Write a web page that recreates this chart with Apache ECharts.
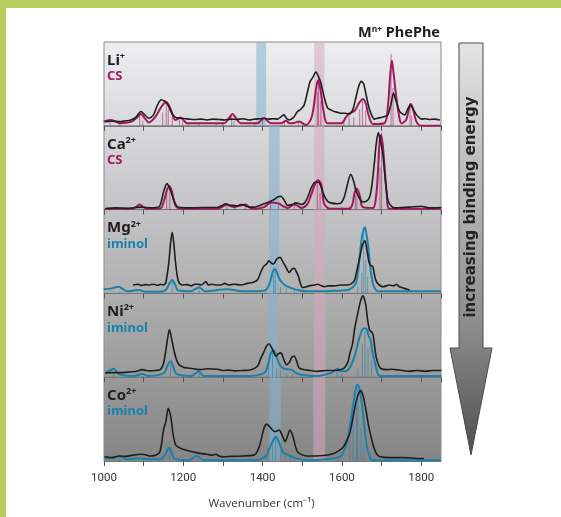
<!DOCTYPE html>
<html><head><meta charset="utf-8">
<script src="https://cdn.jsdelivr.net/npm/echarts@6/dist/echarts.min.js"></script>
<style>html,body{margin:0;padding:0;background:#fff}#c{width:561px;height:517px}</style>
</head><body><div id="c"></div>
<script>
const xTickLabels = [1000, 1200, 1400, 1600, 1800];
const ions = ['Li', 'Ca', 'Mg', 'Ni', 'Co'];
const charges = ['+', '2+', '2+', '2+', '2+'];
const calcNames = ['CS', 'CS', 'iminol', 'iminol', 'iminol'];
const blueBands = [[1384, 1409], [1416, 1443], [1416, 1442], [1413, 1440], [1417, 1446]];
const pinkBands = [[1530, 1556], [1530, 1556], [1530, 1557], [1530, 1559], [1528, 1558]];

const liExp = [[1003,0.05],[1020,0.055],[1040,0.05],[1055,0.06],[1066,0.065],[1080,0.1],[1093,0.17],[1103,0.13],[1113,0.09],[1125,0.13],[1135,0.25],[1145,0.31],[1150,0.3],[1155,0.29],[1162,0.24],[1170,0.16],[1180,0.1],[1193,0.09],[1205,0.085],[1215,0.08],[1230,0.075],[1245,0.08],[1260,0.07],[1275,0.08],[1290,0.075],[1305,0.07],[1320,0.08],[1335,0.075],[1350,0.085],[1365,0.07],[1380,0.08],[1395,0.085],[1404,0.09],[1415,0.08],[1428,0.085],[1438,0.08],[1447,0.11],[1454,0.13],[1460,0.09],[1467,0.07],[1478,0.1],[1488,0.17],[1497,0.2],[1505,0.25],[1513,0.4],[1520,0.53],[1527,0.58],[1534,0.64],[1540,0.6],[1547,0.51],[1556,0.33],[1564,0.21],[1572,0.19],[1581,0.17],[1590,0.16],[1598,0.15],[1608,0.15],[1619,0.14],[1628,0.2],[1636,0.35],[1643,0.48],[1649,0.53],[1655,0.5],[1662,0.35],[1670,0.19],[1682,0.08],[1690,0.09],[1699,0.1],[1708,0.11],[1716,0.13],[1724,0.26],[1730,0.39],[1737,0.29],[1746,0.17],[1758,0.13],[1766,0.2],[1773,0.25],[1780,0.2],[1788,0.13],[1795,0.1],[1800,0.08],[1810,0.085],[1820,0.075],[1834,0.08],[1847,0.07]];
const liCalc = [[999,0.05],[1016,0.07],[1030,0.05],[1041,0.03],[1070,0.05],[1083,0.1],[1093,0.14],[1103,0.09],[1113,0.04],[1130,0.11],[1145,0.23],[1157,0.28],[1168,0.2],[1180,0.07],[1193,0.1],[1202,0.06],[1210,0.03],[1260,0.03],[1303,0.03],[1315,0.09],[1324,0.14],[1333,0.09],[1345,0.03],[1387,0.03],[1397,0.07],[1404,0.09],[1412,0.06],[1421,0.03],[1446,0.03],[1459,0.06],[1468,0.03],[1476,0.03],[1492,0.05],[1509,0.01],[1522,0.08],[1529,0.23],[1535,0.45],[1540,0.54],[1546,0.43],[1554,0.17],[1564,0.03],[1598,0.03],[1610,0.1],[1619,0.15],[1632,0.18],[1643,0.27],[1653,0.32],[1660,0.27],[1666,0.15],[1679,0.02],[1707,0.03],[1716,0.23],[1721,0.55],[1726,0.78],[1731,0.6],[1737,0.35],[1745,0.1],[1750,0.03],[1762,0.07],[1768,0.18],[1774,0.26],[1780,0.19],[1788,0.05],[1800,0],[1850,0]];
const liSticks = [[1015,0.04],[1040,0.02],[1090,0.12],[1098,0.06],[1148,0.16],[1157,0.26],[1162,0.2],[1172,0.1],[1190,0.08],[1198,0.05],[1212,0.03],[1240,0.03],[1283,0.02],[1300,0.03],[1322,0.13],[1328,0.05],[1380,0.03],[1400,0.07],[1455,0.05],[1490,0.04],[1538,0.4],[1541,0.58],[1547,0.3],[1605,0.05],[1618,0.12],[1630,0.1],[1645,0.2],[1652,0.3],[1660,0.18],[1724,0.86],[1729,0.45],[1772,0.27],[1776,0.12]];

const caExp = [[1003,0.01],[1030,0.02],[1060,0.015],[1090,0.03],[1120,0.02],[1140,0.04],[1146,0.13],[1152,0.24],[1159,0.31],[1166,0.25],[1172,0.17],[1184,0.04],[1210,0.02],[1250,0.025],[1286,0.025],[1298,0.05],[1307,0.07],[1316,0.05],[1324,0.05],[1336,0.045],[1345,0.06],[1353,0.055],[1365,0.03],[1378,0.03],[1404,0.07],[1420,0.1],[1429,0.12],[1438,0.15],[1446,0.16],[1455,0.11],[1463,0.05],[1474,0.06],[1484,0.08],[1492,0.07],[1497,0.06],[1506,0.08],[1514,0.15],[1522,0.25],[1530,0.32],[1537,0.33],[1543,0.32],[1549,0.25],[1555,0.17],[1564,0.1],[1572,0.08],[1589,0.07],[1598,0.08],[1606,0.15],[1614,0.3],[1622,0.42],[1629,0.35],[1636,0.22],[1645,0.13],[1653,0.09],[1662,0.1],[1670,0.15],[1676,0.3],[1682,0.56],[1687,0.8],[1692,0.92],[1697,0.82],[1703,0.68],[1709,0.38],[1716,0.11],[1725,0.04],[1733,0.02],[1770,0.03],[1800,0.04],[1820,0.02],[1851,0.025]];
const caCalc = [[1003,0.01],[1070,0.01],[1080,0.03],[1090,0.06],[1100,0.03],[1108,0.01],[1142,0.015],[1152,0.12],[1160,0.25],[1165,0.28],[1171,0.22],[1180,0.05],[1193,0.01],[1286,0.01],[1300,0.04],[1311,0.06],[1320,0.04],[1328,0.03],[1345,0.05],[1357,0.06],[1366,0.03],[1374,0.01],[1404,0.03],[1415,0.07],[1425,0.085],[1435,0.08],[1442,0.07],[1452,0.04],[1463,0.02],[1480,0.06],[1490,0.04],[1497,0.02],[1512,0.06],[1522,0.17],[1532,0.3],[1540,0.35],[1548,0.3],[1555,0.07],[1564,0.02],[1572,0.01],[1619,0.01],[1627,0.07],[1632,0.2],[1638,0.25],[1645,0.17],[1653,0.03],[1678,0.02],[1686,0.15],[1691,0.45],[1695,0.8],[1699,0.89],[1703,0.78],[1707,0.55],[1713,0.2],[1720,0.01],[1850,0.01]];
const caSticks = [[1015,0.02],[1090,0.05],[1158,0.2],[1166,0.26],[1195,0.02],[1240,0.02],[1310,0.05],[1330,0.03],[1356,0.06],[1372,0.02],[1398,0.03],[1420,0.06],[1440,0.05],[1480,0.05],[1538,0.36],[1545,0.2],[1600,0.03],[1620,0.04],[1634,0.18],[1638,0.26],[1665,0.03],[1696,0.5],[1700,0.92]];

const mgExp = [[1073,0.10],[1085,0.11],[1095,0.095],[1105,0.105],[1115,0.1],[1125,0.11],[1135,0.095],[1143,0.11],[1150,0.1],[1156,0.13],[1163,0.35],[1168,0.6],[1172,0.73],[1176,0.6],[1180,0.39],[1185,0.2],[1189,0.13],[1197,0.1],[1210,0.105],[1220,0.09],[1229,0.11],[1236,0.11],[1245,0.1],[1257,0.14],[1263,0.1],[1270,0.11],[1281,0.1],[1295,0.1],[1305,0.12],[1313,0.1],[1329,0.11],[1345,0.1],[1362,0.12],[1375,0.13],[1387,0.16],[1397,0.27],[1404,0.33],[1410,0.35],[1416,0.39],[1422,0.36],[1427,0.35],[1436,0.41],[1444,0.43],[1452,0.37],[1459,0.31],[1467,0.25],[1474,0.29],[1480,0.3],[1485,0.26],[1490,0.21],[1496,0.11],[1501,0.07],[1510,0.08],[1518,0.09],[1530,0.1],[1539,0.11],[1548,0.09],[1556,0.08],[1567,0.09],[1581,0.09],[1598,0.1],[1615,0.1],[1625,0.12],[1632,0.16],[1639,0.3],[1645,0.43],[1652,0.58],[1658,0.63],[1663,0.52],[1668,0.38],[1673,0.33],[1678,0.32],[1684,0.18],[1690,0.12],[1704,0.08],[1720,0.1],[1731,0.09],[1738,0.11],[1745,0.08],[1758,0.06],[1771,0.04]];
const mgCalc = [[999,0.05],[1020,0.06],[1037,0.08],[1048,0.05],[1058,0.025],[1087,0.04],[1105,0.02],[1140,0.02],[1156,0.04],[1165,0.12],[1172,0.16],[1180,0.1],[1186,0.04],[1200,0.03],[1219,0.025],[1233,0.06],[1240,0.07],[1247,0.05],[1255,0.025],[1311,0.05],[1340,0.03],[1370,0.025],[1395,0.03],[1408,0.04],[1416,0.1],[1421,0.17],[1426,0.26],[1431,0.29],[1437,0.24],[1443,0.17],[1451,0.12],[1459,0.09],[1475,0.06],[1489,0.04],[1514,0.025],[1570,0.03],[1615,0.04],[1629,0.08],[1636,0.13],[1643,0.35],[1649,0.62],[1654,0.75],[1658,0.79],[1662,0.7],[1666,0.58],[1672,0.3],[1679,0.1],[1686,0.04],[1692,0.025],[1850,0.025]];
const mgSticks = [[1040,0.03],[1172,0.15],[1240,0.04],[1428,0.22],[1432,0.28],[1445,0.08],[1460,0.06],[1480,0.04],[1640,0.08],[1650,0.25],[1655,0.72],[1660,0.4],[1665,0.2]];

const niExp = [[1003,0.05],[1020,0.055],[1041,0.055],[1060,0.06],[1083,0.07],[1096,0.09],[1106,0.08],[1117,0.075],[1130,0.08],[1142,0.09],[1150,0.16],[1155,0.29],[1160,0.45],[1165,0.57],[1170,0.47],[1176,0.33],[1182,0.22],[1189,0.15],[1200,0.12],[1210,0.11],[1225,0.1],[1243,0.09],[1260,0.1],[1286,0.095],[1300,0.08],[1315,0.085],[1329,0.075],[1350,0.08],[1371,0.09],[1387,0.13],[1396,0.23],[1404,0.31],[1410,0.37],[1416,0.4],[1422,0.36],[1428,0.3],[1433,0.25],[1440,0.28],[1446,0.29],[1453,0.22],[1460,0.15],[1468,0.18],[1474,0.24],[1480,0.25],[1486,0.19],[1492,0.11],[1505,0.09],[1520,0.08],[1539,0.07],[1560,0.08],[1581,0.08],[1595,0.09],[1606,0.11],[1615,0.18],[1621,0.3],[1627,0.4],[1633,0.6],[1640,0.76],[1645,0.87],[1650,0.95],[1653,0.97],[1657,0.93],[1661,0.84],[1665,0.68],[1670,0.56],[1675,0.54],[1679,0.5],[1683,0.35],[1687,0.23],[1693,0.14],[1699,0.1],[1712,0.09],[1725,0.095],[1745,0.085],[1768,0.07],[1790,0.08],[1810,0.07],[1830,0.08],[1851,0.08]];
const niCalc = [[1003,0.05],[1015,0.08],[1024,0.1],[1033,0.06],[1041,0.03],[1075,0.015],[1088,0.03],[1096,0.04],[1106,0.02],[1113,0.015],[1151,0.05],[1160,0.14],[1168,0.19],[1175,0.12],[1182,0.04],[1200,0.02],[1219,0.015],[1232,0.05],[1238,0.07],[1245,0.04],[1252,0.015],[1371,0.015],[1400,0.04],[1408,0.07],[1415,0.17],[1421,0.29],[1428,0.32],[1435,0.25],[1443,0.15],[1455,0.1],[1472,0.09],[1485,0.05],[1497,0.03],[1539,0.015],[1572,0.05],[1582,0.08],[1589,0.1],[1597,0.07],[1606,0.07],[1618,0.1],[1632,0.25],[1640,0.4],[1649,0.54],[1655,0.58],[1661,0.58],[1667,0.5],[1672,0.45],[1677,0.3],[1682,0.2],[1689,0.07],[1695,0.015],[1851,0.015]];
const niSticks = [[1024,0.06],[1095,0.02],[1168,0.15],[1240,0.04],[1415,0.18],[1425,0.3],[1435,0.1],[1445,0.08],[1460,0.05],[1475,0.04],[1588,0.07],[1600,0.04],[1640,0.1],[1652,0.4],[1658,0.55],[1666,0.35],[1675,0.2]];

const coExp = [[1001,0.05],[1020,0.04],[1039,0.06],[1055,0.055],[1073,0.07],[1094,0.08],[1105,0.075],[1115,0.06],[1130,0.07],[1140,0.1],[1145,0.2],[1150,0.37],[1156,0.47],[1162,0.63],[1167,0.56],[1170,0.48],[1175,0.3],[1181,0.19],[1190,0.16],[1199,0.14],[1215,0.12],[1233,0.1],[1250,0.085],[1259,0.08],[1275,0.07],[1282,0.08],[1290,0.06],[1301,0.05],[1320,0.055],[1351,0.06],[1377,0.07],[1385,0.1],[1393,0.19],[1400,0.33],[1405,0.41],[1410,0.44],[1416,0.42],[1423,0.38],[1431,0.35],[1437,0.36],[1442,0.37],[1450,0.3],[1457,0.23],[1463,0.3],[1469,0.37],[1474,0.33],[1479,0.25],[1485,0.14],[1490,0.1],[1511,0.06],[1530,0.06],[1554,0.065],[1579,0.09],[1595,0.13],[1604,0.17],[1612,0.24],[1621,0.35],[1628,0.52],[1634,0.67],[1640,0.78],[1645,0.83],[1648,0.84],[1652,0.8],[1655,0.75],[1661,0.6],[1667,0.43],[1673,0.3],[1680,0.17],[1688,0.08],[1697,0.05],[1722,0.04],[1760,0.04],[1790,0.03],[1807,0.03]];
const coCalc = [[1001,0.03],[1020,0.035],[1039,0.06],[1048,0.04],[1056,0.02],[1090,0.03],[1120,0.02],[1145,0.025],[1155,0.08],[1164,0.16],[1171,0.1],[1178,0.025],[1216,0.01],[1228,0.05],[1235,0.06],[1243,0.03],[1250,0.01],[1385,0.01],[1400,0.03],[1410,0.07],[1418,0.16],[1425,0.23],[1434,0.29],[1440,0.24],[1444,0.19],[1452,0.1],[1461,0.08],[1474,0.05],[1486,0.03],[1511,0.01],[1571,0.025],[1587,0.04],[1600,0.07],[1613,0.23],[1622,0.48],[1630,0.72],[1636,0.88],[1640,0.91],[1645,0.84],[1651,0.67],[1657,0.4],[1663,0.17],[1670,0.06],[1676,0.01],[1849,0.01]];
const coSticks = [[1040,0.04],[1100,0.02],[1165,0.15],[1236,0.05],[1412,0.06],[1425,0.2],[1433,0.28],[1445,0.12],[1458,0.06],[1470,0.05],[1590,0.03],[1620,0.25],[1628,0.5],[1637,0.7],[1640,0.85],[1648,0.4],[1655,0.2]];

const expData = [liExp, caExp, mgExp, niExp, coExp];
const calcData = [liCalc, caCalc, mgCalc, niCalc, coCalc];
const stickData = [liSticks, caSticks, mgSticks, niSticks, coSticks];

const MAG = '#a3175f', TEAL = '#1783ad';
const calcColors = [MAG, MAG, TEAL, TEAL, TEAL];
const stickColors = ['rgba(163,23,95,0.55)','rgba(163,23,95,0.55)','rgba(23,131,173,0.55)','rgba(23,131,173,0.55)','rgba(23,131,173,0.55)'];

const TOP = 42, BOTTOM = 461, N = 5, PH = (BOTTOM - TOP) / N;
const LEFT = 104, RIGHT = 120;
function hex(c){return [parseInt(c.slice(1,3),16),parseInt(c.slice(3,5),16),parseInt(c.slice(5,7),16)];}
function lerp(a,b,t){const A=hex(a),B=hex(b);return 'rgb('+A.map((v,i)=>Math.round(v+(B[i]-v)*t)).join(',')+')';}
const BG0 = '#eeeef0', BG1 = '#858586';

const grids = [], xAxes = [], yAxes = [], series = [];
for (let i = 0; i < N; i++) {
  grids.push({left: LEFT, right: RIGHT, top: TOP + i*PH, height: PH, show: true,
    borderColor: '#8c8c8c', borderWidth: 1,
    backgroundColor: {type:'linear', x:0, y:0, x2:0, y2:1, colorStops:[
      {offset:0, color: lerp(BG0,BG1,i/N)}, {offset:1, color: lerp(BG0,BG1,(i+1)/N)}]}});
  const last = i === N-1;
  xAxes.push({gridIndex: i, type: 'value', min: 1000, max: 1850, interval: 100,
    axisLine: {show: true, onZero: false, lineStyle: {color: '#777', width: 1}},
    axisTick: {show: true, length: 5, lineStyle: {color: '#555'}},
    splitLine: {show: false},
    axisLabel: {show: last, showMaxLabel: false, margin: 11, color: '#333',
      fontFamily: 'Roboto', fontSize: 11.5,
      formatter: v => xTickLabels.indexOf(v) >= 0 ? String(v) : ''},
    name: last ? 'Wavenumber (cm⁻¹)' : '', nameLocation: 'middle', nameGap: 37,
    nameTextStyle: {fontFamily: 'Open Sans', fontSize: 11.5, color: '#333', padding: [0, 22, 0, 0]}
  });
  yAxes.push({gridIndex: i, type: 'value', min: 0, max: 1, show: false});
  series.push({type: 'bar', xAxisIndex: i, yAxisIndex: i, data: stickData[i], barWidth: 1,
    itemStyle: {color: stickColors[i]}, silent: true, z: 2, animation: false,
    markArea: {silent: true, data: [
      [{xAxis: blueBands[i][0], itemStyle: {color: 'rgba(130,178,208,0.55)'}}, {xAxis: blueBands[i][1]}],
      [{xAxis: pinkBands[i][0], itemStyle: {color: 'rgba(214,168,190,0.55)'}}, {xAxis: pinkBands[i][1]}]
    ]}});
  series.push({type: 'line', xAxisIndex: i, yAxisIndex: i, data: calcData[i], showSymbol: false,
    smooth: 0.35, lineStyle: {color: calcColors[i], width: 2}, z: 3, animation: false});
  series.push({type: 'line', xAxisIndex: i, yAxisIndex: i, data: expData[i], showSymbol: false,
    smooth: 0.25, lineStyle: {color: '#1e1e1e', width: 1.6}, z: 4, animation: false});
}

const supRich = (size, supSize, lh, lift) => ({
  a: {fontFamily: 'Noto Sans', fontWeight: 'bold', fontSize: size, fill: '#1e1e1e', lineHeight: lh, verticalAlign: 'bottom'},
  b: {fontFamily: 'Noto Sans', fontWeight: 'bold', fontSize: supSize, fill: '#1e1e1e', lineHeight: lh, verticalAlign: 'bottom', padding: [0, 0, lift, 0]}
});

const graphics = [
  {type: 'rect', shape: {x: 0, y: 0, width: 561, height: 8}, style: {fill: '#b8cd5f'}, z: 1},
  {type: 'rect', shape: {x: 0, y: 0, width: 6, height: 517}, style: {fill: '#b8cd5f'}, z: 1},
  {type: 'text', z: 100, style: {x: 440, y: 40, textAlign: 'right', textVerticalAlign: 'bottom',
    text: '{a|M}{b|n+}{a| PhePhe}', rich: supRich(14.5, 8.5, 18, 6)}},
  {type: 'polygon', z: 50, shape: {points: [[459,43],[483,43],[483,348],[492,348],[471,455],[450,348],[459,348]]},
    style: {stroke: '#4a4a4a', lineWidth: 1, fill: {type:'linear', x:0, y:0, x2:0, y2:1, colorStops:[
      {offset:0, color:'#e4e4e4'}, {offset:0.7, color:'#8a8a8a'}, {offset:1, color:'#4e4e4e'}]}}},
  {type: 'text', z: 60, x: 471, y: 207, rotation: Math.PI/2,
    style: {x: 0, y: 0, text: 'increasing binding energy', textAlign: 'center', textVerticalAlign: 'middle',
      font: 'bold 15px "DejaVu Sans"', fill: '#222'}}
];
for (let i = 0; i < N; i++) {
  const t = TOP + i*PH;
  graphics.push({type: 'text', z: 100, style: {x: 107, y: t + 6, textVerticalAlign: 'top',
    text: '{a|' + ions[i] + '}{b|' + charges[i] + '}', rich: supRich(15, 9, 20, 7)}});
  graphics.push({type: 'text', z: 100, style: {x: 107, y: t + 28, textVerticalAlign: 'top',
    text: calcNames[i], font: 'bold 13px "Noto Sans"', fill: calcColors[i]}});
}

const chart = echarts.init(document.getElementById('c'), null, {renderer: 'canvas'});
chart.setOption({animation: false, backgroundColor: '#ffffff', grid: grids, xAxis: xAxes, yAxis: yAxes,
  series: series, graphic: graphics});
</script></body></html>
